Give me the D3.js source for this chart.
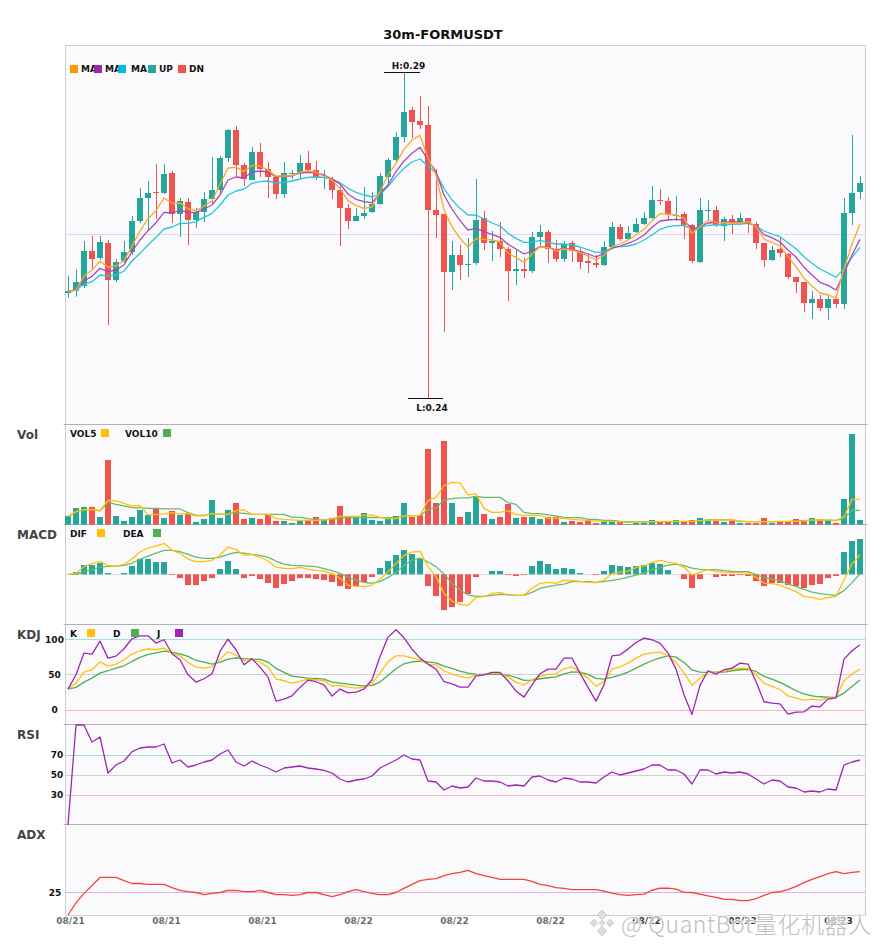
<!DOCTYPE html>
<html>
<head>
<meta charset="utf-8">
<script src="https://cdnjs.cloudflare.com/ajax/libs/d3/7.8.5/d3.min.js"></script>
<style>
html, body { margin: 0; padding: 0; background: #fff; }
svg { display: block; }
text { font-family: "DejaVu Sans", sans-serif; font-weight: bold; }
</style>
</head>
<body>
<svg width="885" height="950"></svg>
<script>
var opens = [.25575,.2561,.2568,.26205,.261,.26325,.2577,.26055,.2619,.26655,.27,.2709,.27075,.27375,.2676,.2694,.2667,.2679,.26985,.2712,.276,.2802,.27495,.2727,.2769,.27435,.27315,.2706,.2736,.27375,.27525,.2742,.273,.27285,.2712,.2685,.26655,.2673,.2679,.2691,.27315,.2757,.27915,.2832,.28155,.28095,.2682,.2676,.2589,.26145,.25995,.26025,.267,.26325,.26355,.26235,.25905,.25935,.25905,.26415,.2649,.26235,.26085,.26325,.26205,.26055,.26025,.25995,.26265,.26565,.26385,.2649,.2661,.267,.2697,.26955,.2673,.2676,.26595,.2604,.26805,.2682,.2658,.26685,.26625,.267,.2661,.26325,.2607,.26235,.2616,.25815,.2574,.25425,.25485,.2535,.25485,.2541,.26775,.2709];
var closes = [.25605,.2574,.26205,.26085,.2634,.2577,.2604,.2619,.26655,.27,.27075,.27075,.2736,.2676,.26955,.2667,.2679,.26985,.2712,.276,.2802,.27495,.27285,.2769,.27435,.27315,.2706,.27375,.27375,.27525,.2742,.27315,.27315,.2712,.2685,.26655,.2673,.26775,.2691,.2733,.2757,.27915,.2829,.2814,.28095,.2682,.26745,.2589,.26145,.25995,.2601,.2667,.26325,.26355,.26235,.25905,.25935,.25905,.26415,.2649,.26235,.26085,.2631,.26205,.2604,.26025,.25995,.26265,.26565,.26385,.26475,.2661,.267,.2697,.26955,.2676,.26745,.26595,.26055,.2682,.2682,.26595,.26685,.26625,.267,.2661,.26325,.2607,.2622,.26175,.25815,.2574,.25425,.25485,.2535,.25485,.2541,.26775,.27075,.27225];
var highs = [.2583,.2593,.26355,.2643,.2643,.2637,.26085,.26355,.2673,.2715,.27255,.2751,.2751,.27405,.27,.27,.2685,.2709,.27615,.2763,.28035,.2808,.27525,.27765,.27825,.2754,.2733,.2754,.2742,.27645,.27705,.27555,.2742,.27315,.2717,.2691,.2685,.27165,.2709,.27375,.276,.2799,.2889,.28365,.2853,.2838,.27435,.2676,.26355,.26295,.264,.27285,.26805,.26505,.2664,.26265,.2622,.261,.2649,.26595,.2652,.2637,.26355,.26355,.26265,.26175,.26145,.26355,.2664,.2661,.2658,.267,.2679,.2718,.27135,.27015,.2703,.2679,.2661,.27,.2697,.2688,.26715,.26745,.26775,.267,.2664,.26325,.2628,.26415,.26175,.25815,.2574,.25605,.25545,.2553,.2553,.27,.27945,.2733];
var lows = [.25505,.2552,.2565,.2593,.2607,.25095,.2574,.26025,.26145,.26625,.26505,.26685,.2706,.26625,.26415,.26295,.2655,.2664,.26925,.27045,.2754,.27315,.2718,.2727,.27315,.27,.26985,.27,.27285,.27285,.27405,.2727,.27135,.26985,.2628,.26535,.26645,.26685,.26775,.26895,.27195,.2754,.2784,.279,.28035,.24,.264,.2499,.2562,.2577,.25815,.25995,.2622,.26055,.26115,.25455,.25695,.258,.25875,.26265,.26025,.2604,.2604,.2604,.25935,.25875,.2595,.2598,.26245,.26355,.2637,.26475,.26595,.26685,.26895,.2667,.26655,.26385,.26025,.26025,.26655,.26565,.26355,.2646,.26595,.26475,.26235,.25965,.26055,.26115,.25785,.25575,.2529,.25185,.25305,.2517,.2535,.25335,.26595,.26985];

var ma5 = [.25595,.2562,.2583,.2592,.2605,.25965,.2598,.2606,.2628,.26505,.2669,.2681,.27,.2692,.26925,.2684,.2681,.2688,.26955,.2721,.2745,.2746,.274,.2749,.2748,.2742,.2733,.2733,.27335,.2739,.27405,.27385,.2733,.2727,.27145,.2696,.26885,.26845,.26865,.27095,.27345,.2752,.2773,.2787,.2794,.27595,.27345,.2682,.2657,.26395,.26265,.26395,.2638,.2637,.2634,.2617,.2611,.26035,.2616,.2627,.26255,.26205,.26235,.2622,.2618,.2613,.2607,.26145,.2627,.2631,.2637,.26445,.26535,.26655,.26765,.26755,.26745,.26695,.2647,.2657,.26665,.26635,.26625,.26625,.26625,.26645,.2657,.26385,.2633,.2628,.26125,.2597,.25795,.2568,.25575,.25545,.255,.25935,.2631,.26605];
var ma10 = [.25595,.2563,.2576,.25825,.25945,.25895,.2592,.25995,.26195,.2637,.2651,.2663,.26785,.26775,.26815,.26785,.26785,.26835,.26895,.27045,.2727,.27315,.273,.2739,.27405,.2739,.27315,.2733,.2733,.27375,.27385,.27375,.27345,.27285,.2721,.2706,.2698,.26945,.2693,.2707,.27195,.27395,.27555,.2767,.2776,.2757,.27395,.27045,.26835,.2666,.2652,.26545,.26495,.26455,.2641,.26305,.26235,.2616,.26205,.2627,.26265,.2622,.26245,.2623,.26195,.2616,.26115,.2617,.26245,.2628,.2632,.2637,.26445,.2656,.26655,.2667,.2668,.2667,.2653,.2657,.26625,.26635,.26635,.2664,.2664,.2663,.2658,.2645,.26405,.2634,.2622,.26115,.2596,.25845,.25735,.2569,.2562,.2587,.26145,.2638];
var ma20 = [.25595,.2562,.25705,.25745,.25845,.2583,.25845,.25905,.26055,.2617,.26295,.2641,.26535,.26565,.2662,.2662,.26645,.2671,.2677,.26895,.27045,.27105,.27135,.2722,.27245,.27255,.27225,.27235,.27255,.27285,.2731,.27315,.2731,.2728,.2723,.27145,.27085,.27045,.27015,.2706,.2717,.2732,.27445,.2754,.27585,.2748,.2737,.27145,.2697,.26845,.26745,.26745,.26685,.26625,.2658,.2647,.26395,.26335,.26335,.26365,.26335,.2631,.2631,.26295,.26265,.26225,.26185,.2619,.26255,.2627,.2628,.2631,.2637,.26445,.2653,.2657,.26585,.2659,.2653,.2656,.2659,.26595,.266,.26605,.2661,.2662,.2658,.26505,.2646,.2642,.2633,.2624,.2612,.2602,.25935,.25875,.2581,.25945,.2611,.2626];

var volumes = [8.7,16.7,17.7,17.7,7.7,64.7,8.7,3.7,7.7,14.7,9.7,16.7,6.7,13.7,9.7,11.7,2.7,5.7,24.7,6.7,14.7,21.7,5.7,6.7,5.7,9.7,3.7,3.7,1.7,3.7,4.7,7.7,4.7,6.7,18.7,7.7,6.7,11.7,4.7,3.7,6.7,8.7,21.7,7.7,9.7,75.7,21.7,83.7,21.7,7.7,12.7,28,10.7,5.7,7.7,20.7,6.7,7.7,7.7,5.7,7.7,7.7,2.7,3.7,2.7,4.7,1.7,2.7,2.7,2.7,.7,2.7,2.7,4.7,3.7,2.7,4.7,2.7,4.7,6.7,3.7,3.7,2.7,3.7,1.7,1.7,1.7,6.7,1.7,2.7,2.7,5.7,4.7,6.7,3.7,3.7,1.7,25.7,90.7,4.7];
var vol5 = [8,13,15,15.3,14,24.3,23.7,21.3,18.7,19.3,9.7,10,10.7,11.7,10.7,11,8.7,8.7,11.3,10.3,10.3,14,14.7,10.3,10.3,10.3,6.3,5.3,4.7,4.3,4.3,4.3,4.7,5.7,8.3,8.3,8.3,9.3,9.7,7.3,6,6,8.7,9,9.3,24,27.3,39,42.3,41.7,29.7,30.7,16.3,12.3,12.3,14,10,9.3,9.3,9,6.3,6.3,6.3,5.3,4.7,4,3.7,3.3,3.3,2.7,2.3,2.3,2.3,3,3,3.3,3.3,3.3,3.3,4,4.3,4.7,4.7,4.7,3.7,3,3,3,3,3.3,3.3,3.3,3.7,4.7,4.7,4.7,4,8,25.3,25.3];
var vol10 = [8,13,14.7,15,13.7,22.3,20.3,18.7,17,17,16.3,16.3,15.7,15.7,15.7,12,9.3,9.3,11,10.3,10.7,11.7,11.3,10.3,10.3,10.3,10.3,10.3,7.3,7.3,6,5,4.7,5.7,6.3,6.7,7,7,7.3,7,7,7.3,8.3,9,9.3,15.3,16.7,24.7,26,26.7,26.7,28.3,27.3,27.3,27.3,22,20.3,12.3,11,11,9.7,8.7,7.3,7,7,5.3,5.3,4.3,4.3,3.3,3,2.7,2.7,2.7,2.7,2.7,2.7,3,3,3.7,4.7,4.7,4.7,4.7,3.3,3,3,3,3,3,3,3.7,4,4.3,4.7,4.3,4.3,6.3,14.3,14.3];

// macd values in units of 1e-4
var macdHist = [0,2.3,9.3,9.3,11.3,1.3,0,1.3,8.3,15.3,15.3,12.3,12.3,-.7,-3.7,-10.7,-10.7,-6.7,-3.7,5.3,13.3,5.3,-3.7,-1.7,-4.7,-8.7,-13.7,-9.7,-6.7,-3.7,-3.7,-4.7,-5.7,-7.7,-11.7,-14.7,-11.7,-7.7,-2.7,6.3,13.3,19.3,24.3,20.3,15.3,-11.7,-21.7,-35.7,-32.7,-27.7,-19.7,-2.7,0,3.3,3.3,-.7,-1.7,-.7,8.3,13.3,10.3,5.3,6.3,5.3,1.3,0,-.7,3.3,9.3,8.3,7.3,8.3,9.3,11.3,10.3,4.3,0,-4.7,-13.7,-4.7,0,-2.7,-1.7,-1.7,-.7,-1.7,-6.7,-11.7,-8.7,-8.7,-10.7,-11.7,-13.7,-10.7,-9.7,-3.7,-1.7,22.3,33.3,35.3];
var dif = [0,1,7.7,10.7,13,9,8.3,10,15.3,22.3,26.3,28.3,31,24.3,21,15.3,12.7,12.7,14,19.3,27.3,24.7,19,19.7,17.3,13.3,7.3,6,5.7,7,5.3,4,3.3,1,-4,-11,-12,-12,-11,-5,2.7,10.7,19,22.3,23,7.7,-2.3,-19,-26.7,-30,-31,-23,-22.3,-19,-18,-20.7,-21,-21,-14,-9,-8,-9,-6,-6.3,-7,-8,-8.3,-5.7,.7,2.3,3.3,6.7,8.3,12,14,12.3,11,7,-.7,2.3,4.7,2.7,2.3,1.7,1.7,1.3,-3,-9,-9.3,-10.7,-14,-17.3,-22,-23,-25,-23.3,-22,-5.7,10.3,19.3];
var dea = [0,0,2.7,4.7,7.3,8,8.3,9,11.3,15,18.3,21.3,24,24,22.7,20,17.3,16,16,17.3,20,22,21.3,20,19,17,13.3,10.3,9,8.7,8.3,7.7,5.7,3.7,1,-3,-5.7,-8,-9,-7,-3.3,2,8.7,14.3,16.3,12.3,7.7,.3,-9,-15.7,-20.7,-22,-22,-21,-20,-20.3,-21,-21,-18,-14,-12.3,-10.7,-9.7,-7.3,-7.3,-7.3,-8,-7.3,-6,-4.7,-2.7,-.7,1.3,5,6.7,9.3,10.3,8.7,6.3,5,4.7,4.7,3.7,3,2.7,2.7,-.3,-3,-5,-6.3,-9.7,-12,-15,-17.7,-19.3,-20.3,-21,-16.3,-8.3,.3];

var kdjK = [29.6,38.1,53.6,56.9,68.1,62,64.9,71,79,83.7,86.5,85.1,87.4,80.4,76.6,67.2,60.6,59.2,61.1,71.9,82.3,77.6,70,71.9,67.7,60.6,44.2,41.4,38.1,40.4,43.7,42.8,41.4,33.8,34.8,32.4,31,32,38.1,52.2,68.1,76.6,76.6,73.8,70.5,64.9,63.9,55.5,50.8,47.5,45.1,49.8,49.8,52.2,52.2,46.5,39.5,35.3,42.8,47.5,50.3,51.2,58.3,61.1,53.6,45.1,33.4,40.4,57.8,61.1,66.3,73.3,79,80.8,81.8,76.6,67.2,52.2,34.8,45.1,53.1,53.1,54.5,57.8,59.2,58.8,49.8,38.1,33.4,28.7,20.2,16.9,14.1,15.5,14.1,16.9,17.9,41.4,50.8,57.8];
var kdjD = [29.6,32,39.5,45.1,52.2,55.5,59.2,62.5,68.6,74.3,78.5,80.8,83.2,81.3,79.4,75.7,70,67.7,64.9,67.7,71.9,73.8,72.4,71.9,71.4,67.7,58.8,53.1,47.9,46.5,45.1,44.7,43.7,39.5,38.1,36.7,35.3,34.3,34.8,39.5,48.9,58.3,65.3,68.1,69.1,68.1,66.7,62,58.8,55,52.2,50.8,50.3,50.3,50.8,48.9,46.1,41.8,42.3,44.2,45.6,47,51.2,54,53.6,50.3,44.7,43.7,46.1,49.4,53.6,59.2,64.9,69.6,73.8,76.6,74.7,67.2,56.9,53.6,53.1,53.6,53.6,55.5,56.9,57.3,54.5,47.5,43.7,39,33.4,27.3,23,20.2,18.8,18.3,17.9,24,33.4,42.3];
var kdjJ = [29.6,49.8,80.4,79,97.3,73.3,76.1,86.5,100.6,104.8,104.8,94.5,99.2,79.4,71,49.8,39.5,44.2,51.2,82.7,100.1,85.1,63.9,72.4,60.6,46.5,12.7,15.5,20.2,32,42.3,40,35.7,19.7,29.6,24.4,25.4,29.6,42.8,75.7,102.9,113.3,102,86,73.3,64.9,57.8,40,37.1,32.4,32.4,48.4,49.8,53.1,53.1,41.4,26.8,18.3,35.7,51.2,57.8,57.8,73.3,73.3,52.2,32,12.7,35.7,76.6,78,86,95.4,101.5,99.2,94.5,80.4,57.8,21.6,-6.1,34.8,55.5,50.8,56.9,59.2,66.3,64.9,40.4,11.8,9.9,8.9,-5.6,-2.8,-2.4,5.6,4.7,15.5,17.4,71.9,83.7,92.1];

var rsi = [0,100,100,83,88,52,60,64,73.3,77,78,78,81,62,65,58,60,63,65,71,75,63,59,64,60,57,53,57,58,59,57,56,54.7,52,46,43,45,46,49,57,61,65,70,66,65,44,43,35,39,37,38,47,44,44,43,39,40,39,48,49,45,43,47,46,43,43,42,48,53,50,52,54,56,60,60,55,55,51,41,55,55,51,53,52,53,51,46,41,45,44,38,37,33,34,33,36,35,60,63,65];
var adx = [15,20.4,24.6,28.1,31.7,31.7,31.7,30.3,29,29,28.6,28.6,28.6,27.2,25.9,25.4,25,24.1,24.6,25,25.9,25.9,25.4,25.4,25.9,25,24.1,24.1,23.7,24.1,25,25,24.1,23.2,24.1,25.4,26.3,25.4,24.6,24.1,24.1,25,26.8,28.6,30.3,30.8,31.2,32.5,33.4,33.9,34.8,33.4,32.5,31.7,30.8,30.8,30.8,30.8,29.9,28.6,28.1,27.2,26.8,26.3,26.3,26.3,26.3,25.6,24.7,24.1,23.7,24.1,24.3,26,26.9,26.9,26.5,25.1,25,24.3,23.5,22.8,22,21.9,21.4,21.4,22.3,23.7,25,25.4,26.3,27.7,29.4,30.8,32.1,33.4,34.3,33.4,33.9,34.3];

var dateLabels = ["08/21","08/21","08/21","08/22","08/22","08/22","08/22","08/23","08/23"];
var dateIndex = [0,12,24,36,48,60,72,84,96];

var UP = "#26a69a", DN = "#ef5350";
var YELLOW = "#ffc107", GREEN = "#4caf50", PURPLE = "#9c27b0";

var svg = d3.select("svg");
var left = 65.5, right = 865.5;

var x = d3.scaleBand()
	.domain(d3.range(closes.length))
	.range([64, 864])
	.paddingInner(0.25)
	.paddingOuter(0.125);
var xc = function (i) { return x(i) + x.bandwidth() / 2; };

var yPrice = d3.scaleLinear().domain([.23595, .29295]).range([425, 45]);
var yVol = d3.scaleLinear().domain([0, 100]).range([524.67, 424.67]);
var yMacd = d3.scaleLinear().domain([-50, 50]).range([624.33, 524.33]);
var yKdj = d3.scaleLinear().domain([-21, 120]).range([725, 625]);
var yRsi = d3.scaleLinear().domain([0, 100]).range([825, 725]);
var yAdx = d3.scaleLinear().domain([15, 55]).range([915, 825]);

// panel background and frame
var panelTops = [45.5, 424.5, 524.5, 624.5, 724.5, 824.5];
svg.append("rect").attr("x", left).attr("y", 45.5)
	.attr("width", right - left).attr("height", 870)
	.attr("fill", "#fafafc");
svg.append("path")
	.attr("d", "M" + left + ",45.5V915.5M" + right + ",45.5V915.5M" + left + ",45.5H" + right + "M" + left + ",915.5H" + right)
	.attr("fill", "none").attr("stroke", "#ccccd4");
svg.selectAll(".sep").data(panelTops.slice(1)).enter().append("path")
	.attr("class", "sep")
	.attr("d", function (d) { return "M" + (left - 2) + "," + d + "H" + (right + 2); })
	.attr("stroke", "#b0b0b6");

// reference lines
function refLine(yv, color) {
	svg.append("line").attr("x1", left).attr("x2", right)
		.attr("y1", Math.floor(yv) + 0.5).attr("y2", Math.floor(yv) + 0.5)
		.attr("stroke", color);
}
refLine(234, "#dcdce8");
refLine(yMacd(0), "#dedede");
refLine(yKdj(100), "#a8dcd8");
refLine(yKdj(50), "#d0d0d0");
refLine(yKdj(0), "#ffb8b8");
refLine(yRsi(70), "#a8dcd8");
refLine(yRsi(50), "#d0d0d0");
refLine(yRsi(30), "#ffb8b8");
refLine(yAdx(25), "#e2b0e8");

function drawLine(values, y, color) {
	var line = d3.line()
		.x(function (d, i) { return xc(i); })
		.y(function (d) { return y(d); });
	svg.append("path").datum(values)
		.attr("d", line)
		.attr("fill", "none")
		.attr("stroke", color)
		.attr("stroke-width", 1.3)
		.attr("stroke-linejoin", "round");
}

// candles
var idx = d3.range(closes.length);
var colorOf = function (i) { return closes[i] >= opens[i] ? UP : DN; };

svg.append("g").selectAll("rect").data(idx).enter().append("rect")
	.attr("x", function (i) { return x(i) + 3; })
	.attr("width", 1)
	.attr("y", function (i) { return yPrice(highs[i]); })
	.attr("height", function (i) { return yPrice(lows[i]) - yPrice(highs[i]); })
	.attr("fill", colorOf);

svg.append("g").selectAll("rect").data(idx).enter().append("rect")
	.attr("x", function (i) { return x(i); })
	.attr("width", x.bandwidth())
	.attr("y", function (i) { return yPrice(Math.max(opens[i], closes[i])); })
	.attr("height", function (i) {
		return Math.max(1, Math.abs(yPrice(opens[i]) - yPrice(closes[i])));
	})
	.attr("fill", colorOf);

drawLine(ma20, yPrice, "#26c6da");
drawLine(ma10, yPrice, "#ab47bc");
drawLine(ma5, yPrice, "#ffa726");

// high / low markers
var fmt = d3.format(".2f");
var iHigh = d3.range(highs.length).reduce(function (a, b) { return highs[b] > highs[a] ? b : a; }, 0);
var iLow = d3.range(lows.length).reduce(function (a, b) { return lows[b] < lows[a] ? b : a; }, 0);
var hy = Math.round(yPrice(highs[iHigh])) + 0.5;
var ly = Math.round(yPrice(lows[iLow])) + 0.5;
svg.append("line").attr("x1", xc(iHigh) - 20).attr("x2", xc(iHigh) + 16).attr("y1", hy).attr("y2", hy).attr("stroke", "#111");
svg.append("line").attr("x1", xc(iLow) - 20).attr("x2", xc(iLow) + 15).attr("y1", ly).attr("y2", ly).attr("stroke", "#111");
svg.append("text").attr("x", xc(iHigh) + 4.5).attr("y", hy - 4).attr("text-anchor", "middle")
	.attr("font-size", 9).attr("fill", "#111").text("H:" + fmt(highs[iHigh]));
svg.append("text").attr("x", xc(iLow) + 4).attr("y", ly + 12).attr("text-anchor", "middle")
	.attr("font-size", 9).attr("fill", "#111").text("L:" + fmt(lows[iLow]));

// volume
svg.append("g").selectAll("rect").data(idx).enter().append("rect")
	.attr("x", function (i) { return x(i); })
	.attr("width", x.bandwidth())
	.attr("y", function (i) { return yVol(volumes[i]); })
	.attr("height", function (i) { return yVol(0) - yVol(volumes[i]); })
	.attr("fill", colorOf);
drawLine(vol10, yVol, "#66bb6a");
drawLine(vol5, yVol, YELLOW);

// macd
svg.append("g").selectAll("rect").data(idx).enter().append("rect")
	.attr("x", function (i) { return x(i); })
	.attr("width", x.bandwidth())
	.attr("y", function (i) { return yMacd(Math.max(0, macdHist[i])); })
	.attr("height", function (i) { return Math.abs(yMacd(macdHist[i]) - yMacd(0)); })
	.attr("fill", function (i) { return macdHist[i] >= 0 ? UP : DN; });
drawLine(dea, yMacd, "#66bb6a");
drawLine(dif, yMacd, YELLOW);

// kdj, rsi, adx
drawLine(kdjD, yKdj, GREEN);
drawLine(kdjK, yKdj, YELLOW);
drawLine(kdjJ, yKdj, PURPLE);
drawLine(rsi, yRsi, PURPLE);
drawLine(adx, yAdx, "#f44336");

// y axes with the few labelled levels
function yAxis(scale, ticks, labelX) {
	var g = svg.append("g").attr("transform", "translate(" + left + ",0)")
		.call(d3.axisLeft(scale).tickValues(ticks).tickSize(0));
	g.select(".domain").remove();
	g.selectAll("text")
		.attr("x", labelX - left)
		.attr("text-anchor", "middle")
		.attr("font-size", 9)
		.attr("font-family", '"DejaVu Sans", sans-serif')
		.attr("font-weight", "bold")
		.attr("fill", "#111");
}
yAxis(yKdj, [0, 50, 100], 54.5);
yAxis(yRsi, [30, 50, 70], 57);
yAxis(yAdx, [25], 55);

// x axis
var xAxis = svg.append("g").attr("transform", "translate(0,915)")
	.call(d3.axisBottom(d3.scaleOrdinal().domain(dateIndex).range(dateIndex.map(function (i) { return xc(i) + 2; })))
		.tickSize(0).tickPadding(3)
		.tickFormat(function (d, i) { return dateLabels[i]; }));
xAxis.select(".domain").remove();
xAxis.selectAll("text")
	.attr("font-size", 9)
	.attr("font-family", '"DejaVu Sans", sans-serif')
	.attr("font-weight", "bold")
	.attr("fill", function (d, i) { return i > 5 ? "#333" : "#6e6e6e"; });

// title and panel names
svg.append("text").attr("x", 443).attr("y", 39).attr("text-anchor", "middle")
	.attr("font-size", 13).attr("fill", "#111").text("30m-FORMUSDT");
var panelNames = ["Vol", "MACD", "KDJ", "RSI", "ADX"];
var nameY = [439, 539, 639, 739, 839];
panelNames.forEach(function (n, i) {
	svg.append("text").attr("x", 17).attr("y", nameY[i]).attr("font-size", 12)
		.attr("fill", "#444").text(n);
});

// legends: text first, the swatches sit on top
function legendText(s, px, py) {
	svg.append("text").attr("x", px).attr("y", py).attr("font-size", 9).attr("fill", "#111").text(s);
}
function swatch(c, px, py) {
	svg.append("rect").attr("x", px).attr("y", py).attr("width", 8).attr("height", 8).attr("fill", c);
}
legendText("MA", 81, 72);
legendText("MA", 105, 72);
legendText("MA", 131, 72);
legendText("UP", 159, 72);
legendText("DN", 189, 72);
swatch("#ff9800", 70, 65);
swatch("#9c27b0", 94, 65);
swatch("#00bcd4", 118, 65);
swatch(UP, 148, 65);
swatch(DN, 178, 65);

legendText("VOL5", 70, 437);
swatch(YELLOW, 101, 429);
legendText("VOL10", 125, 437);
swatch(GREEN, 163, 429);

legendText("DIF", 70, 537);
swatch(YELLOW, 97, 529);
legendText("DEA", 123, 537);
swatch(GREEN, 153, 529);

legendText("K", 70, 637);
swatch(YELLOW, 87, 629);
legendText("D", 113, 637);
swatch(GREEN, 131, 629);
legendText("J", 157, 637);
swatch(PURPLE, 175, 629);

// watermark: white halo, then the grey glyphs
var wmText = "@ QuantBot量化机器人";
[{ stroke: "#fff", sw: 2.5, fill: "#fff", op: 0.75 }, { stroke: "none", sw: 0, fill: "#b4b4b4", op: 0.85 }].forEach(function (s) {
	svg.append("text").attr("x", 621).attr("y", 933)
		.style("font-family", '"Noto Sans CJK SC", "DejaVu Sans", sans-serif')
		.style("font-weight", "300")
		.style("letter-spacing", "0.6px")
		.attr("font-size", 23)
		.attr("fill", s.fill)
		.attr("stroke", s.stroke).attr("stroke-width", s.sw)
		.attr("opacity", s.op)
		.text(wmText);
});
// logo: a ring of small diamonds round a centre one
var logo = svg.append("g").attr("transform", "translate(602,923)")
	.attr("fill", "#dcdcdc").attr("stroke", "#bbb").attr("stroke-width", 0.5);
[[0, -8, 5], [-8, 0, 4], [8, 0, 4], [0, 8, 5], [0, 0, 3]].forEach(function (p) {
	logo.append("path").attr("d", "M" + p[0] + "," + (p[1] - p[2]) + "L" + (p[0] + p[2]) + "," + p[1] + "L" + p[0] + "," + (p[1] + p[2]) + "L" + (p[0] - p[2]) + "," + p[1] + "Z");
});
</script>
</body>
</html>
